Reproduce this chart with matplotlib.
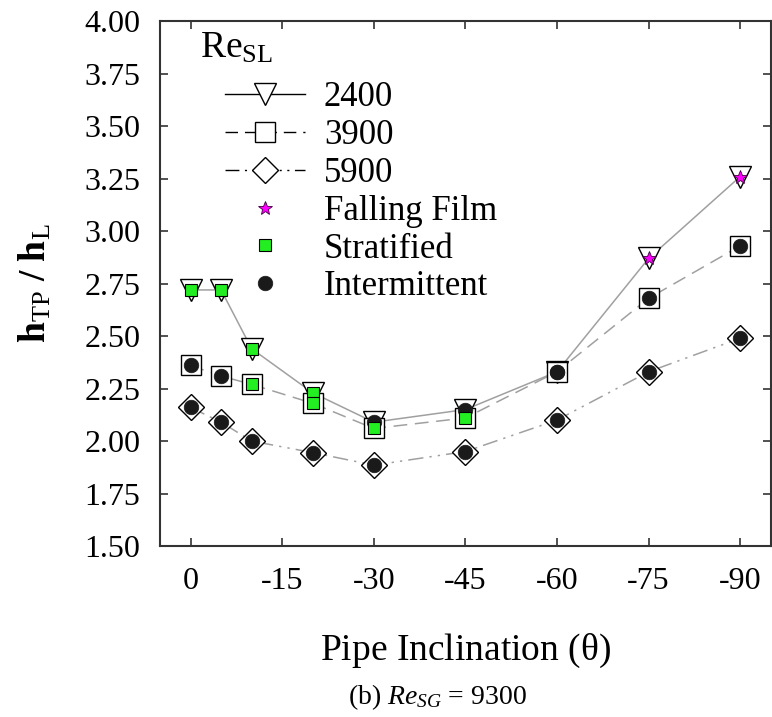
import matplotlib
matplotlib.use("Agg")
import matplotlib.pyplot as plt
from matplotlib.lines import Line2D

plt.rcParams['font.family'] = ['Liberation Serif', 'DejaVu Serif']
plt.rcParams['mathtext.fontset'] = 'custom'
plt.rcParams['mathtext.rm'] = 'Liberation Serif'
plt.rcParams['mathtext.it'] = 'Liberation Serif:italic'
plt.rcParams['mathtext.bf'] = 'Liberation Serif:bold'

# pipe inclination (deg) and h_TP / h_L for each Re_SL
theta = [0, -5, -10, -20, -30, -45, -60, -75, -90]
h_2400 = [2.72, 2.72, 2.44, 2.23, 2.09, 2.15, 2.33, 2.87, 3.26]
h_3900 = [2.36, 2.31, 2.27, 2.18, 2.06, 2.11, 2.33, 2.68, 2.93]
h_5900 = [2.16, 2.09, 2.00, 1.945, 1.885, 1.95, 2.10, 2.33, 2.49]

# flow regime of every point: F = falling film, S = stratified, I = intermittent
reg_2400 = ['S', 'S', 'S', 'S', 'I', 'I', 'I', 'F', 'F']
reg_3900 = ['I', 'I', 'S', 'S', 'S', 'S', 'I', 'I', 'I']
reg_5900 = ['I', 'I', 'I', 'I', 'I', 'I', 'I', 'I', 'I']

xticks = [0, -15, -30, -45, -60, -75, -90]
yticks = [1.50, 1.75, 2.00, 2.25, 2.50, 2.75, 3.00, 3.25, 3.50, 3.75, 4.00]

series = [
    ('2400', h_2400, reg_2400, '-', 'v', 16),
    ('3900', h_3900, reg_3900, (0, (9, 5)), 's', 15),
    ('5900', h_5900, reg_5900, (0, (10, 4, 1.5, 4, 1.5, 4)), 'D', 13),
]
regime_style = {
    'F': dict(marker='*', ms=10, mfc='#ff00ff', mec='#400040', mew=0.6),
    'S': dict(marker='s', ms=9, mfc='#22ee22', mec='black', mew=0.8),
    'I': dict(marker='o', ms=10.5, mfc='#1a1a1a', mec='#1a1a1a', mew=0.5),
}

fig = plt.figure(figsize=(7.72, 7.17), dpi=100)
ax = fig.add_axes([0.2073, 0.2385, 0.7910, 0.7318])

for name, vals, regs, ls, mk, ms in series:
    ax.plot(theta, vals, color='#a0a0a0', lw=1.1, ls=ls, marker=mk, ms=ms,
            mfc='white', mec='black', mew=1.0, zorder=2)

for name, vals, regs, ls, mk, ms in series:
    for key in ['S', 'I', 'F']:
        xs = [t for t, r in zip(theta, regs) if r == key]
        ys = [v for v, r in zip(vals, regs) if r == key]
        if xs:
            ax.plot(xs, ys, ls='none', zorder=3, **regime_style[key])

ax.set_xlim(5, -95)
ax.set_ylim(1.5, 4.0)
ax.set_xticks(xticks)
ax.set_xticklabels([str(t) for t in xticks])
ax.set_yticks(yticks)
ax.set_yticklabels([f"{v:.2f}" for v in yticks])
ax.tick_params(direction='in', length=6, width=1.2, color='#333333',
               top=True, right=True, labelsize=23)
ax.tick_params(axis='x', pad=15)
ax.tick_params(axis='y', pad=14)
for sp in ax.spines.values():
    sp.set_color('#333333')
    sp.set_linewidth(1.5)

ax.set_xlabel(r"Pipe Inclination ($\mathrm{\theta}$)", fontsize=27, labelpad=26)
ax.set_ylabel(r"h$_{\mathrm{TP}}$ / h$_{\mathrm{L}}$", fontsize=27,
              fontweight='bold', labelpad=22)

handles = []
for name, vals, regs, ls, mk, ms in series:
    handles.append(Line2D([], [], color='black', lw=1.0, ls=ls, marker=mk, ms=ms,
                          mfc='white', mec='black', mew=1.0))
for key in ['F', 'S', 'I']:
    handles.append(Line2D([], [], ls='none', **regime_style[key]))
labels = ['2400', '3900', '5900', 'Falling Film', 'Stratified', 'Intermittent']

ax.legend(handles, labels, loc='upper left', bbox_to_anchor=(0.1064, 0.886),
          frameon=False, fontsize=25, handlelength=2.3, handletextpad=0.55,
          labelspacing=0.14, borderpad=0, borderaxespad=0)
ax.text(0.0655, 0.930, r"Re$_{\mathrm{SL}}$", transform=ax.transAxes,
        fontsize=27, va='baseline', ha='left')

fig.text(0.566, 0.028, r"(b) $\mathit{Re}_{\mathit{SG}}$ = 9300", fontsize=20,
         ha='center', va='center')

fig.savefig("out.png", dpi=100)
